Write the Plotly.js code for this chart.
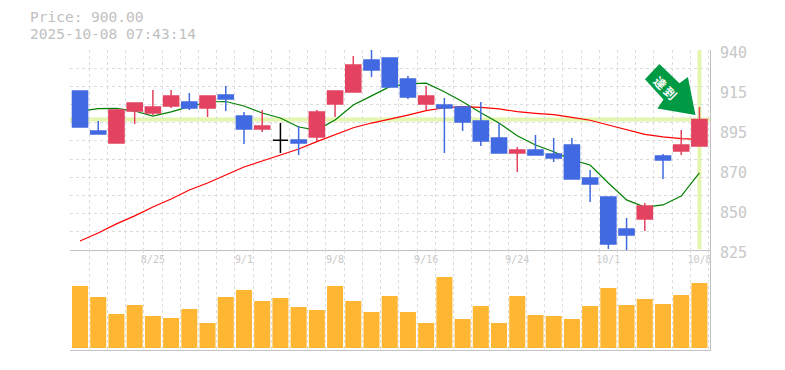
<!DOCTYPE html>
<html><head><meta charset="utf-8">
<script src="https://cdn.plot.ly/plotly-3.0.1.min.js"></script>
<style>html,body{margin:0;padding:0;background:#fff}#c{width:785px;height:370px}</style>
</head><body><div id="c"></div>
<script>
const dates=['8/19','8/20','8/21','8/22','8/25','8/26','8/27','8/28','8/29','9/1','9/2','9/3','9/4','9/5','9/8','9/9','9/10','9/11','9/12','9/16','9/17','9/18','9/19','9/22','9/24','9/25','9/26','9/29','9/30','10/1','10/2','10/3','10/6','10/7','10/8'];
const open_=[916.4,893.4,886.5,904.9,903.8,907.8,910.1,906.7,914.1,902,894.6,888.1,888.3,890,909,915.9,934.3,935.4,923.3,909,908.4,907.2,899.2,889.4,880.8,882.5,880.2,885.4,866.4,855.5,837.1,842.8,879,881.9,884.8];
const close_=[895.7,891.7,905.5,909.5,907.2,913.6,906.7,913.6,911.8,894.6,896.3,888.1,886.5,904.4,916.4,931.4,928.5,918.7,913,913.6,906.7,898.6,887.7,880.8,882.5,879.6,877.9,865.8,863,828.5,833.6,850.3,876.8,885.4,900];
const high_=[916.4,899.2,905.5,909.5,917,917,915.3,913.6,919.3,904.4,905.5,898,896.3,905.5,916.4,936.5,940,935.4,925,919.3,912.4,907.2,910.1,898,884.2,891.1,889.4,889.4,871,855.5,843.4,852,880.2,894,907.2];
const low_=[895.7,891.7,886.5,897.5,902.6,906.7,905.5,901.5,904.9,885.9,892.9,880.8,879.6,887.7,901.5,915.9,924.5,918.7,911.8,905.5,880.8,893.4,884.8,880.8,869.9,879.6,875.6,865.8,852.6,825.6,825,835.9,865.8,879.6,884.8];
const maShort=[904.9,906.3,906.4,904.9,902,904.4,907.4,910.1,910.4,907.8,903.8,900.9,895.7,894,899.8,908.4,913.6,918.9,920.5,920.9,916,910.3,903.9,898,890.7,885.4,881.5,876.8,873.9,863.5,853.8,849.7,850.9,856,869.3];
const maLong=[830.2,834.8,840,844.6,849.7,854.3,859.5,863.5,868.1,872.7,876.2,879.6,883.1,887.3,891.1,895.3,898,900.2,902.6,905.1,906.8,907.4,907,906.1,904.6,903.6,902.8,901.3,899.6,896.9,894,891.5,890.1,889,888.6];
const volume=[62,51,34,43,32,30,39,25,51,58,47,50,41,38,62,47,36,52,36,25,71,29,42,25,52,33,32,29,42,60,43,49,44,53,65];
const tickDates=['8/25','9/1','9/8','9/16','9/24','10/1','10/8'];
const priceLabels=['940','915','895','870','850','825'];
const priceTicks=[940,917,894,871,848,825];
const currentPrice=900;
const titleLines=['Price: 900.00','2025-10-08 07:43:14'];
const badge='達\u2009到';

const idx=dates.map((_,i)=>i);
const isDoji=open_.map((o,i)=>o===close_[i]);
const pick=(a,f)=>a.filter((_,i)=>f(i));
const normal=i=>!isDoji[i], doji=i=>isDoji[i];
const GRID='#dcdcdc', BORDER='#c0c0c0', TXT='#c8c8c8';
const xBase={range:[-0.55,34.58],showgrid:false,zeroline:false,showline:true,linecolor:BORDER,linewidth:1,
  minor:{showgrid:true,gridcolor:GRID,griddash:'3px,3px',gridwidth:1,tick0:-0.5,dtick:1,ticks:''}};
const traces=[
 {type:'scatter',mode:'lines',x:idx,y:maShort,line:{color:'#008000',width:1.2},xaxis:'x',yaxis:'y',hoverinfo:'skip'},
 {type:'scatter',mode:'lines',x:idx,y:maLong,line:{color:'#ff0000',width:1.2},xaxis:'x',yaxis:'y',hoverinfo:'skip'},
 {type:'candlestick',x:pick(idx,normal),open:pick(open_,normal),high:pick(high_,normal),low:pick(low_,normal),close:pick(close_,normal),
  whiskerwidth:0,xaxis:'x',yaxis:'y3',
  increasing:{line:{color:'#E34360',width:1.5},fillcolor:'#E34360'},
  decreasing:{line:{color:'#4169E1',width:1.5},fillcolor:'#4169E1'}},
 {type:'candlestick',x:pick(idx,doji),open:pick(open_,doji),high:pick(high_,doji),low:pick(low_,doji),close:pick(close_,doji),
  whiskerwidth:0,xaxis:'x',yaxis:'y3',
  increasing:{line:{color:'#000000',width:1.5},fillcolor:'#000000'},
  decreasing:{line:{color:'#000000',width:1.5},fillcolor:'#000000'}},
 {type:'bar',x:idx,y:volume,width:0.88,marker:{color:'#FFB733',line:{width:0}},xaxis:'x2',yaxis:'y2',hoverinfo:'skip'}
];
const arrow='M -40 55.6 L -54.5 40.3 L -36 20 L -42 11 L -4 4.6 L -11.5 42.6 L -20 36.3 Z';
const layout={
 width:785,height:370,margin:{l:70,r:75,t:50,b:20},paper_bgcolor:'#fff',plot_bgcolor:'#fff',
 showlegend:false,boxmode:'overlay',boxgap:0.17,boxgroupgap:0,
 font:{family:'"DejaVu Sans Mono",monospace',color:TXT},
 xaxis:Object.assign({},xBase,{anchor:'y',tickmode:'array',tickvals:tickDates.map(d=>dates.indexOf(d)),ticktext:tickDates,ticks:'',tickfont:{size:10,color:TXT},rangeslider:{visible:false}}),
 xaxis2:Object.assign({},xBase,{anchor:'y2',showticklabels:false,ticks:''}),
 yaxis:{domain:[1/3,1],range:[825,940],side:'right',anchor:'x',showline:true,linecolor:BORDER,linewidth:1,showgrid:false,zeroline:false,
   tickmode:'array',tickvals:priceTicks,ticktext:priceLabels,ticks:'',ticklabelshift:3,ticklabelstandoff:6,tickfont:{size:15,color:TXT},
   minor:{showgrid:true,gridcolor:GRID,griddash:'3px,3px',gridwidth:1,tick0:825,dtick:115/11,ticks:''}},
 yaxis3:{overlaying:'y',matches:'y',side:'right',range:[825,940],showgrid:false,zeroline:false,showticklabels:false,ticks:'',anchor:'x'},
 yaxis2:{domain:[0,1/3],range:[-2,98],side:'right',anchor:'x2',showline:true,linecolor:BORDER,linewidth:1,showgrid:false,zeroline:false,showticklabels:false,ticks:''},
 shapes:[
  {type:'line',xref:'x',yref:'y',x0:-0.55,x1:34.58,y0:currentPrice,y1:currentPrice,line:{color:'#E4F5AD',width:4},layer:'below'},
  {type:'line',xref:'x',yref:'y',x0:34,x1:34,y0:825.5,y1:940,line:{color:'#E4F5AD',width:4},layer:'below'},
  {type:'path',xref:'x',yref:'y',xsizemode:'pixel',ysizemode:'pixel',xanchor:34,yanchor:currentPrice,path:arrow,fillcolor:'#009944',line:{width:0},layer:'above'}
 ],
 annotations:[
  {xref:'paper',yref:'paper',x:-41/640,y:1+33/300,xanchor:'left',yanchor:'middle',borderpad:0,text:titleLines[0],showarrow:false,font:{size:14.5,color:'#c0c0c0'}},
  {xref:'paper',yref:'paper',x:-41/640,y:1+16.5/300,xanchor:'left',yanchor:'middle',borderpad:0,text:titleLines[1],showarrow:false,font:{size:14.5,color:'#c0c0c0'}},
  {xref:'x',yref:'y',x:34,y:currentPrice,xshift:-33.5,yshift:32.5,text:'<b>'+badge+'</b>',textangle:45,showarrow:false,font:{family:'"Noto Sans CJK JP"',size:12,color:'#fff'}}
 ]
};
Plotly.newPlot('c',traces,layout,{displayModeBar:false,staticPlot:true});
</script></body></html>
